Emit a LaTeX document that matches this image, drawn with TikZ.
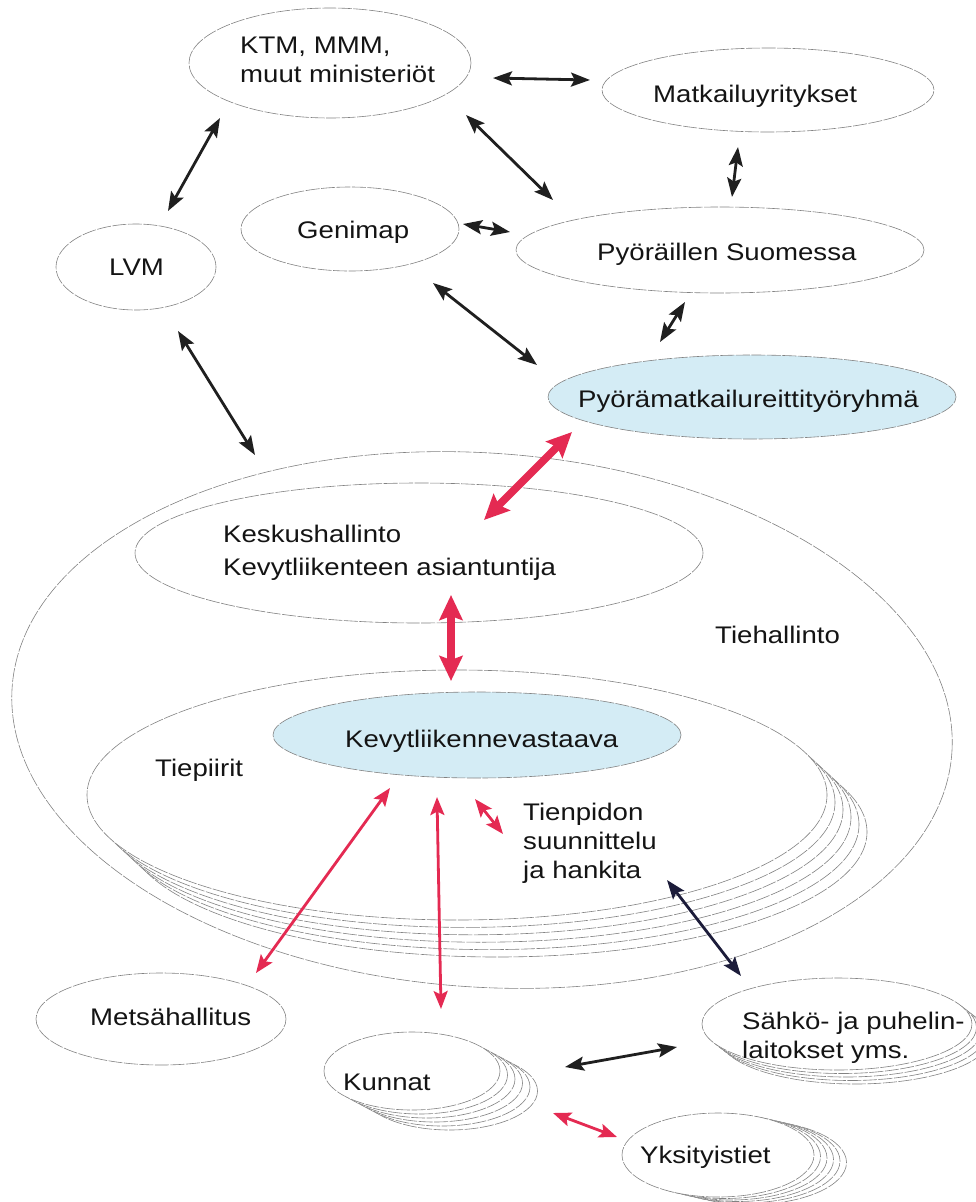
\documentclass[tikz,border=0pt]{standalone}
\usepackage{fontspec}
\setmainfont{Liberation Sans}[FakeStretch=1.15]
\usetikzlibrary{shapes.geometric,arrows.meta}
\definecolor{outl}{RGB}{130,130,130}
\definecolor{redarr}{RGB}{228,42,82}
\definecolor{cyanfill}{RGB}{212,236,245}
\definecolor{txt}{RGB}{20,20,20}
\definecolor{navyarr}{RGB}{28,28,58}
\begin{document}
\begin{tikzpicture}[x=1pt,y=-1pt,
  oval/.style={ellipse, draw=outl, line width=0.6pt, dash pattern=on 14pt off 1.5pt, fill=white, inner sep=0pt},
  lbl/.style={anchor=base west, inner sep=0pt, text=txt, font=\fontsize{24}{29}\selectfont, align=left},
  blk/.style={line width=2.8pt, draw=black!88, {Stealth[length=19pt,width=14pt,inset=3.5pt]}-{Stealth[length=19pt,width=14pt,inset=3.5pt]}},
  redthin/.style={line width=2.8pt, draw=redarr, {Stealth[length=18pt,width=14pt,inset=3.5pt]}-{Stealth[length=18pt,width=14pt,inset=3.5pt]}},
  redthick/.style={line width=7.5pt, draw=redarr, {Stealth[length=25pt,width=23pt,inset=4pt]}-{Stealth[length=25pt,width=23pt,inset=4pt]}}
]
\useasboundingbox (0,0) rectangle (975,1202);

% Tiehallinto (outer)
\node[oval, minimum width=942pt, minimum height=534pt, rotate=-4] (tieh) at (482,720) {};
% Keskushallinto
\node[oval, minimum width=568pt, minimum height=140pt] (kesk) at (419,553) {};
% Tiepiirit stack
\foreach \k in {5,4,3,2,1}{
  \node[oval, minimum width=740pt, minimum height=250pt] (tiep\k) at ({457+8*\k},{795+7.4*\k}) {};
}
\node[oval, minimum width=740pt, minimum height=250pt] (tiep) at (457,795) {};
% Kevytliikennevastaava
\node[oval, fill=cyanfill, minimum width=408pt, minimum height=86pt] (kevyt) at (477,735) {};

% top nodes
\node[oval, minimum width=282pt, minimum height=110pt] (ktm) at (330,63) {};
\node[oval, minimum width=332pt, minimum height=84pt] (matk) at (768,90) {};
\node[oval, minimum width=218pt, minimum height=84pt] (geni) at (350,229) {};
\node[oval, minimum width=160pt, minimum height=86pt] (lvm) at (136,267) {};
\node[oval, minimum width=408pt, minimum height=86pt] (pyor) at (720,250) {};
\node[oval, fill=cyanfill, minimum width=408pt, minimum height=84pt] (pyoryh) at (752,397) {};

% bottom nodes
\node[oval, minimum width=250pt, minimum height=92pt] (metsa) at (161,1019) {};
\foreach \k in {5,4,3,2,1}{
  \node[oval, minimum width=176pt, minimum height=78pt] (kunnat\k) at ({412+7.5*\k},{1071+4*\k}) {};
}
\node[oval, minimum width=176pt, minimum height=78pt] (kunnat) at (412,1071) {};
\foreach \k in {4,3,2,1}{
  \node[oval, minimum width=270pt, minimum height=92pt] (sahko\k) at ({837+4.5*\k},{1024+3.5*\k}) {};
}
\node[oval, minimum width=270pt, minimum height=92pt] (sahko) at (837,1024) {};
\foreach \k in {5,4,3,2,1}{
  \node[oval, minimum width=192pt, minimum height=84pt] (yksit\k) at ({718+6.5*\k},{1155+1.5*\k}) {};
}
\node[oval, minimum width=192pt, minimum height=84pt] (yksit) at (718,1155) {};

% labels (base = baseline of the last line)
\node[lbl] (ktmL) at (240,82) {KTM, MMM,\\muut ministeriöt};
\node[lbl] (matkL) at (653,102) {Matkailuyritykset};
\node[lbl] (geniL) at (297,238) {Genimap};
\node[lbl] (lvmL) at (109,275) {LVM};
\node[lbl] (pyorL) at (597,260) {Pyöräillen Suomessa};
\node[lbl] (pyoryhL) at (578,407) {Pyörämatkailureittityöryhmä};
\node[lbl, font=\fontsize{24}{33}\selectfont] (keskL) at (223,575) {Keskushallinto\\Kevytliikenteen asiantuntija};
\node[lbl] (tiehL) at (715,643) {Tiehallinto};
\node[lbl] (tiepL) at (155,776) {Tiepiirit};
\node[lbl] (kevytL) at (345,747) {Kevytliikennevastaava};
\node[lbl] (tienL) at (523,878) {Tienpidon\\suunnittelu\\ja hankita};
\node[lbl] (metsaL) at (90,1025) {Metsähallitus};
\node[lbl] (kunnatL) at (343,1090) {Kunnat};
\node[lbl] (sahkoL) at (742,1058) {Sähkö- ja puhelin-\\laitokset yms.};
\node[lbl] (yksitL) at (640,1163) {Yksityistiet};

% arrow end points
\coordinate (a1s) at (493,78);  \coordinate (a1e) at (590,80);
\coordinate (a2s) at (220,118); \coordinate (a2e) at (168,211);
\coordinate (a3s) at (466,115); \coordinate (a3e) at (553,200);
\coordinate (a4s) at (738,147); \coordinate (a4e) at (732,197);
\coordinate (a5s) at (463,224); \coordinate (a5e) at (510,232);
\coordinate (a6s) at (433,283); \coordinate (a6e) at (537,365);
\coordinate (a7s) at (685,302); \coordinate (a7e) at (660,342);
\coordinate (a8s) at (178,331); \coordinate (a8e) at (255,455);
\coordinate (r1s) at (572,432); \coordinate (r1e) at (484,520);
\coordinate (r2s) at (451,595); \coordinate (r2e) at (451,681);
\coordinate (r3s) at (390,788); \coordinate (r3e) at (256,973);
\coordinate (r4s) at (437,797); \coordinate (r4e) at (441,1009);
\coordinate (r5s) at (475,799); \coordinate (r5e) at (503,834);
\coordinate (b9s) at (667,880); \coordinate (b9e) at (741,976);
\coordinate (b10s) at (565,1067); \coordinate (b10e) at (677,1047);
\coordinate (r6s) at (553,1113); \coordinate (r6e) at (617,1137);

% arrows
\draw[blk] (a1s) -- (a1e);
\draw[blk] (a2s) -- (a2e);
\draw[blk] (a3s) -- (a3e);
\draw[blk] (a4s) -- (a4e);
\draw[blk] (a5s) -- (a5e);
\draw[blk] (a6s) -- (a6e);
\draw[blk] (a7s) -- (a7e);
\draw[blk] (a8s) -- (a8e);
\draw[redthick] (r1s) -- (r1e);
\draw[redthick] (r2s) -- (r2e);
\draw[redthin] (r3s) -- (r3e);
\draw[redthin] (r4s) -- (r4e);
\draw[redthin] (r5s) -- (r5e);
\draw[blk, draw=navyarr] (b9s) -- (b9e);
\draw[blk] (b10s) -- (b10e);
\draw[redthin] (r6s) -- (r6e);
\end{tikzpicture}
\end{document}
